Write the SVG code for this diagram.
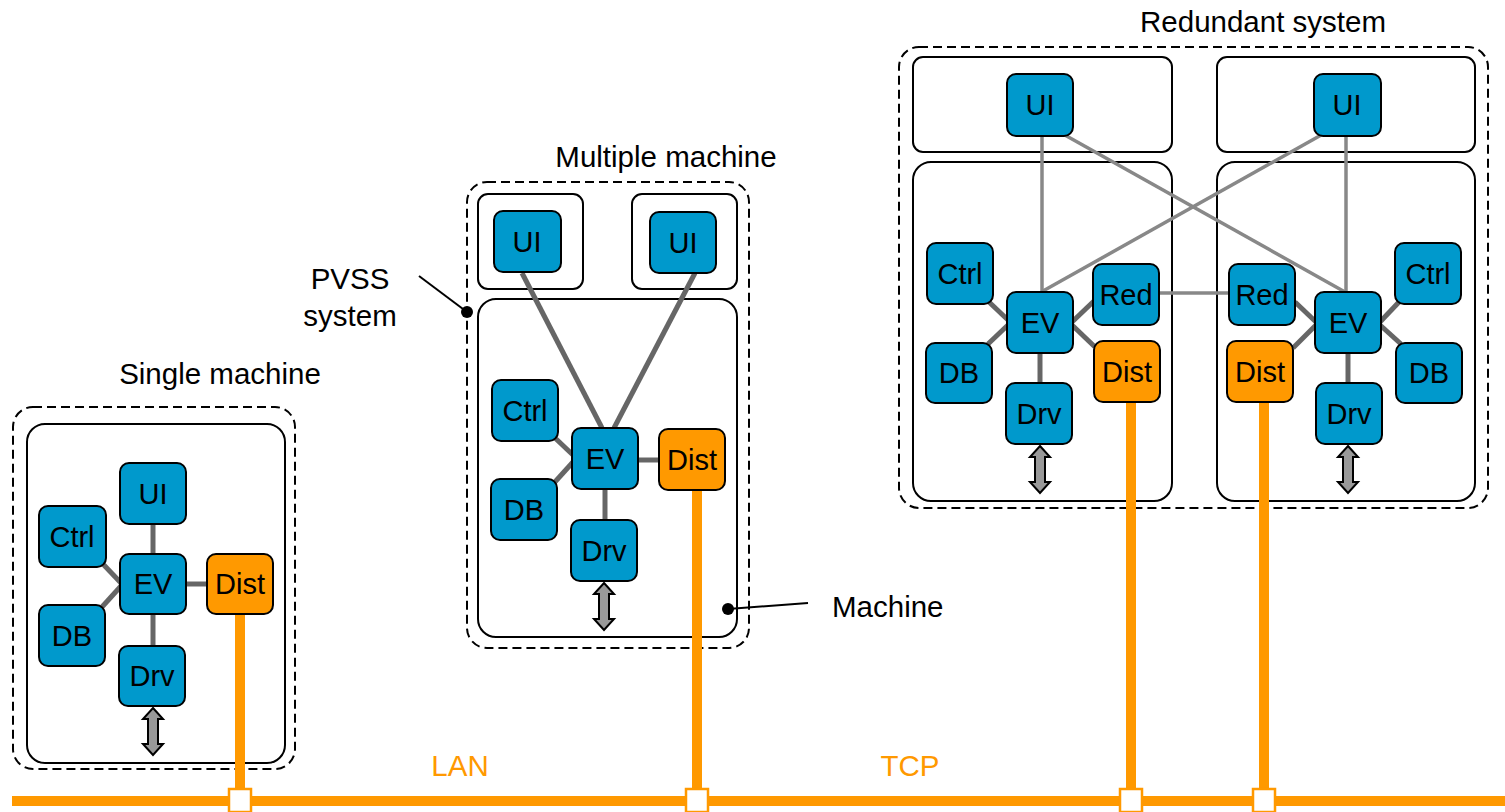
<svg xmlns="http://www.w3.org/2000/svg" width="1505" height="812" viewBox="0 0 1505 812">
<style>
text{font-family:"Liberation Sans",Arial,sans-serif;font-size:29.5px;fill:#000}
.lbl{text-anchor:middle}
.n text{font-size:29px}
.sys{fill:none;stroke:#000;stroke-width:2;stroke-dasharray:9 5}
.mach{fill:#fff;stroke:#000;stroke-width:2}
.b{fill:#0099CC;stroke:#000;stroke-width:2}
.o{fill:#FF9900;stroke:#000;stroke-width:2}
.c{stroke:#666;stroke-width:5;fill:none}
.cl{stroke:#888;stroke-width:3.5;fill:none}
.lan{stroke:#FF9900;stroke-width:10;fill:none}
.jn{fill:#fff;stroke:#FF9900;stroke-width:2.5}
.arr{fill:#999;stroke:#000;stroke-width:2;stroke-linejoin:miter}
.orange{fill:#FF9900}
</style>
<defs>
<polygon id="dbl" class="arr" points="0,0 10,11 5,11 5,36 10,36 0,47 -10,36 -5,36 -5,11 -10,11"/>
</defs>

<!-- containers -->
<g id="single-system">
<rect class="sys" x="13" y="407" width="282" height="362" rx="20"/>
<rect class="mach" x="27" y="424" width="258" height="339" rx="18"/>
<text class="lbl" x="220" y="384">Single machine</text>
</g>
<g id="multi-system">
<rect class="sys" x="467" y="182" width="282" height="466" rx="20"/>
<rect class="mach" x="478" y="194" width="105" height="95" rx="10"/>
<rect class="mach" x="632" y="194" width="105" height="95" rx="10"/>
<rect class="mach" x="478" y="299" width="259" height="338" rx="18"/>
<text class="lbl" x="666" y="167">Multiple machine</text>
</g>
<g id="redundant-system">
<rect class="sys" x="899" y="47" width="589" height="461" rx="20"/>
<rect class="mach" x="913" y="57" width="259" height="95" rx="10"/>
<rect class="mach" x="1217" y="57" width="258" height="95" rx="10"/>
<rect class="mach" x="913" y="162" width="259" height="339" rx="18"/>
<rect class="mach" x="1217" y="162" width="258" height="339" rx="18"/>
<text class="lbl" x="1263" y="32">Redundant system</text>
</g>

<!-- connectors -->
<g id="connectors">
<!-- single -->
<line class="c" x1="153" y1="524" x2="153" y2="554"/>
<line class="c" x1="186" y1="584" x2="207" y2="584"/>
<line class="c" x1="153" y1="614" x2="153" y2="646"/>
<line class="c" x1="102" y1="563" x2="121" y2="583"/>
<line class="c" x1="102" y1="607" x2="121" y2="586"/>
<!-- multiple -->
<line class="c" x1="522" y1="273" x2="602" y2="428"/>
<line class="c" x1="695" y1="273" x2="614" y2="428"/>
<line class="c" x1="638" y1="460" x2="659" y2="460"/>
<line class="c" x1="605" y1="489" x2="605" y2="520"/>
<line class="c" x1="554" y1="437" x2="573" y2="455"/>
<line class="c" x1="554" y1="483" x2="573" y2="462"/>
<!-- redundant cross links -->
<line class="cl" x1="1042" y1="136" x2="1042" y2="292"/>
<line class="cl" x1="1063" y1="134" x2="1345" y2="292"/>
<line class="cl" x1="1323" y1="134" x2="1043" y2="291"/>
<line class="cl" x1="1346" y1="136" x2="1346" y2="292"/>
<line class="cl" x1="1159" y1="293" x2="1229" y2="293"/>
<!-- redundant left -->
<line class="c" x1="989" y1="302" x2="1008" y2="320"/>
<line class="c" x1="988" y1="344" x2="1008" y2="325"/>
<line class="c" x1="1072" y1="322" x2="1094" y2="301"/>
<line class="c" x1="1072" y1="325" x2="1095" y2="347"/>
<line class="c" x1="1040" y1="353" x2="1040" y2="383"/>
<!-- redundant right -->
<line class="c" x1="1295" y1="302" x2="1316" y2="322"/>
<line class="c" x1="1293" y1="348" x2="1316" y2="325"/>
<line class="c" x1="1380" y1="322" x2="1399" y2="302"/>
<line class="c" x1="1380" y1="325" x2="1401" y2="344"/>
<line class="c" x1="1348" y1="353" x2="1348" y2="383"/>
<!-- LAN -->
<line class="lan" x1="240" y1="614" x2="240" y2="790"/>
<line class="lan" x1="697" y1="490" x2="697" y2="790"/>
<line class="lan" x1="1131" y1="402" x2="1131" y2="790"/>
<line class="lan" x1="1264" y1="402" x2="1264" y2="790"/>
<line class="lan" x1="12" y1="801" x2="1505" y2="801"/>
<rect class="jn" x="229" y="789" width="22" height="23"/>
<rect class="jn" x="686" y="789" width="22" height="23"/>
<rect class="jn" x="1120" y="789" width="22" height="23"/>
<rect class="jn" x="1253" y="789" width="22" height="23"/>
<!-- double arrows -->
<use href="#dbl" x="153" y="708"/>
<use href="#dbl" x="604" y="583"/>
<use href="#dbl" x="1040" y="446"/>
<use href="#dbl" x="1348" y="446"/>
</g>

<!-- single nodes -->
<g id="s-ui" class="n"><rect class="b" x="120" y="463" width="66" height="61" rx="9"/><text class="lbl" x="153" y="504">UI</text></g>
<g id="s-ctrl" class="n"><rect class="b" x="39" y="506" width="67" height="61" rx="9"/><text class="lbl" x="72" y="547">Ctrl</text></g>
<g id="s-ev" class="n"><rect class="b" x="120" y="554" width="66" height="60" rx="9"/><text class="lbl" x="153" y="594">EV</text></g>
<g id="s-dist" class="n"><rect class="o" x="207" y="554" width="66" height="60" rx="9"/><text class="lbl" x="240" y="594">Dist</text></g>
<g id="s-db" class="n"><rect class="b" x="39" y="605" width="66" height="61" rx="9"/><text class="lbl" x="72" y="646">DB</text></g>
<g id="s-drv" class="n"><rect class="b" x="119" y="646" width="66" height="60" rx="9"/><text class="lbl" x="152" y="686">Drv</text></g>

<!-- multiple nodes -->
<g id="m-ui1" class="n"><rect class="b" x="494" y="211" width="67" height="61" rx="9"/><text class="lbl" x="527" y="252">UI</text></g>
<g id="m-ui2" class="n"><rect class="b" x="650" y="212" width="66" height="61" rx="9"/><text class="lbl" x="683" y="253">UI</text></g>
<g id="m-ctrl" class="n"><rect class="b" x="492" y="380" width="66" height="61" rx="9"/><text class="lbl" x="525" y="421">Ctrl</text></g>
<g id="m-ev" class="n"><rect class="b" x="572" y="428" width="66" height="61" rx="9"/><text class="lbl" x="605" y="469">EV</text></g>
<g id="m-dist" class="n"><rect class="o" x="659" y="429" width="66" height="61" rx="9"/><text class="lbl" x="692" y="470">Dist</text></g>
<g id="m-db" class="n"><rect class="b" x="491" y="479" width="66" height="61" rx="9"/><text class="lbl" x="524" y="520">DB</text></g>
<g id="m-drv" class="n"><rect class="b" x="571" y="520" width="66" height="61" rx="9"/><text class="lbl" x="604" y="561">Drv</text></g>

<!-- redundant left nodes -->
<g id="rl-ui" class="n"><rect class="b" x="1007" y="74" width="66" height="62" rx="9"/><text class="lbl" x="1040" y="115">UI</text></g>
<g id="rl-ctrl" class="n"><rect class="b" x="927" y="243" width="66" height="61" rx="9"/><text class="lbl" x="960" y="284">Ctrl</text></g>
<g id="rl-ev" class="n"><rect class="b" x="1007" y="292" width="66" height="61" rx="9"/><text class="lbl" x="1040" y="333">EV</text></g>
<g id="rl-red" class="n"><rect class="b" x="1093" y="264" width="66" height="61" rx="9"/><text class="lbl" x="1126" y="305">Red</text></g>
<g id="rl-dist" class="n"><rect class="o" x="1094" y="341" width="66" height="61" rx="9"/><text class="lbl" x="1127" y="382">Dist</text></g>
<g id="rl-db" class="n"><rect class="b" x="926" y="343" width="66" height="60" rx="9"/><text class="lbl" x="959" y="383">DB</text></g>
<g id="rl-drv" class="n"><rect class="b" x="1006" y="383" width="66" height="61" rx="9"/><text class="lbl" x="1039" y="424">Drv</text></g>

<!-- redundant right nodes -->
<g id="rr-ui" class="n"><rect class="b" x="1314" y="74" width="67" height="62" rx="9"/><text class="lbl" x="1347" y="115">UI</text></g>
<g id="rr-red" class="n"><rect class="b" x="1229" y="264" width="66" height="61" rx="9"/><text class="lbl" x="1262" y="305">Red</text></g>
<g id="rr-ev" class="n"><rect class="b" x="1315" y="292" width="66" height="61" rx="9"/><text class="lbl" x="1348" y="333">EV</text></g>
<g id="rr-ctrl" class="n"><rect class="b" x="1395" y="243" width="66" height="61" rx="9"/><text class="lbl" x="1428" y="284">Ctrl</text></g>
<g id="rr-dist" class="n"><rect class="o" x="1227" y="341" width="66" height="61" rx="9"/><text class="lbl" x="1260" y="382">Dist</text></g>
<g id="rr-db" class="n"><rect class="b" x="1396" y="343" width="66" height="60" rx="9"/><text class="lbl" x="1429" y="383">DB</text></g>
<g id="rr-drv" class="n"><rect class="b" x="1316" y="383" width="66" height="61" rx="9"/><text class="lbl" x="1349" y="424">Drv</text></g>

<!-- annotations -->
<g id="annotations">
<text class="lbl" x="350" y="289">PVSS</text>
<text class="lbl" x="350" y="326">system</text>
<line x1="419" y1="276" x2="467" y2="312" stroke="#000" stroke-width="2"/>
<circle cx="467" cy="312" r="6" fill="#000"/>
<text x="832" y="617">Machine</text>
<line x1="728" y1="609" x2="808" y2="603" stroke="#000" stroke-width="2"/>
<circle cx="728" cy="609" r="6" fill="#000"/>
<text class="lbl orange" x="460" y="776">LAN</text>
<text class="lbl orange" x="910" y="776">TCP</text>
</g>
</svg>
